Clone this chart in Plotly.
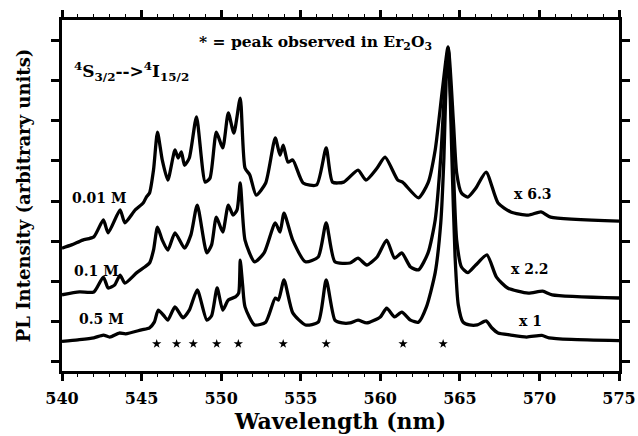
import plotly.graph_objects as go

# Wavelength (nm) and PL intensity (arbitrary units, offset spectra)
wl_05 = [540.0, 541.0, 542.0, 542.6, 543.0, 543.6, 544.0, 545.0, 545.5, 545.8, 546.05, 546.4, 546.65,
         547.1, 547.6, 548.0, 548.5, 549.1, 549.4, 549.75, 550.1, 550.45, 550.9, 551.1, 551.2, 551.35,
         551.5, 552.1, 552.8, 553.4, 553.6, 553.95, 554.5, 555.3, 556.1, 556.6, 557.15, 557.6, 558.1,
         558.6, 559.15, 560.0, 560.4, 560.9, 561.35, 561.9, 562.4, 562.9, 563.45, 563.8, 564.0, 564.15,
         564.26, 564.4, 564.5, 564.7, 564.9, 565.2, 565.6, 566.1, 566.65, 567.0, 567.4, 568.2, 569.2,
         570.15, 570.6, 572.0, 575.0]
int_05 = [1.51, 1.55, 1.60, 1.67, 1.62, 1.72, 1.70, 1.80, 1.85, 1.99, 2.29, 2.15, 2.04,
          2.37, 2.10, 2.29, 2.79, 2.04, 2.15, 2.84, 2.29, 2.54, 2.62, 2.71, 3.53, 2.91,
          2.37, 1.92, 1.99, 2.59, 2.54, 3.04, 2.22, 1.92, 1.99, 3.04, 2.04, 1.97, 1.97,
          2.04, 1.97, 2.12, 2.34, 2.12, 2.24, 2.04, 1.99, 2.37, 3.22, 4.46, 6.09, 8.18,
          8.80, 7.51, 6.09, 3.61, 2.42, 1.99, 1.92, 1.92, 2.02, 1.85, 1.72, 1.67, 1.62,
          1.66, 1.60, 1.56, 1.53]

wl_01 = [540.0, 541.1, 542.0, 542.6, 542.9, 543.3, 543.65, 543.95, 544.7, 545.2, 545.5, 545.75, 546.0,
         546.3, 546.65, 547.1, 547.7, 548.1, 548.5, 549.1, 549.4, 549.7, 550.1, 550.45, 550.75, 551.0,
         551.2, 551.5, 552.1, 552.7, 553.4, 553.7, 553.95, 554.5, 555.3, 556.1, 556.6, 557.15, 558.1,
         558.6, 559.15, 559.8, 560.4, 560.9, 561.35, 561.9, 562.4, 563.0, 563.45, 563.8, 564.1, 564.26,
         564.6, 564.8, 565.1, 565.5, 566.0, 566.7, 567.3, 568.0, 569.3, 570.2, 570.8, 575.0]
int_01 = [2.67, 2.74, 2.74, 3.11, 2.84, 2.91, 3.16, 2.96, 3.22, 3.36, 3.46, 3.78, 4.35,
          4.03, 3.78, 4.21, 3.83, 4.16, 4.90, 3.71, 3.91, 4.60, 4.23, 4.90, 4.65, 4.78,
          5.45, 4.03, 3.49, 3.71, 4.46, 4.23, 4.70, 4.03, 3.49, 3.61, 4.46, 3.49, 3.46,
          3.58, 3.41, 3.61, 4.03, 3.58, 3.71, 3.36, 3.29, 3.71, 4.53, 6.09, 8.18, 8.80,
          5.70, 4.03, 3.36, 3.22, 3.41, 3.66, 3.11, 2.84, 2.71, 2.76, 2.67, 2.59]

wl_001 = [540.0, 540.6, 541.3, 542.0, 542.6, 542.9, 543.65, 543.95, 544.6, 545.1, 545.3, 545.5, 545.75,
          546.0, 546.3, 546.65, 547.1, 547.3, 547.5, 547.7, 548.0, 548.45, 549.0, 549.3, 549.7, 550.1,
          550.45, 550.8, 551.2, 551.5, 551.8, 552.2, 552.8, 553.4, 553.7, 553.9, 554.2, 554.5, 555.15,
          556.0, 556.6, 557.0, 557.7, 558.6, 559.1, 559.8, 560.3, 561.1, 561.4, 562.4, 563.0, 563.45,
          563.9, 564.26, 564.6, 564.8, 565.1, 565.5, 566.0, 566.65, 567.4, 568.2, 569.3, 570.1, 570.7,
          575.0]
int_001 = [3.83, 3.91, 4.03, 4.11, 4.53, 4.21, 4.78, 4.46, 4.78, 4.95, 5.10, 5.20, 5.77,
           6.71, 6.02, 5.52, 6.27, 6.07, 6.22, 5.89, 6.07, 7.09, 5.47, 5.57, 6.71, 6.32,
           7.19, 6.69, 7.56, 5.82, 5.65, 5.15, 5.45, 6.57, 6.14, 6.39, 5.97, 6.02, 5.45,
           5.40, 6.32, 5.47, 5.47, 5.77, 5.52, 5.82, 6.09, 5.52, 5.47, 5.08, 5.45, 6.27,
           7.76, 8.83, 6.94, 5.70, 5.20, 5.10, 5.32, 5.72, 4.95, 4.73, 4.65, 4.73, 4.60,
           4.50]

star_wl = [545.95, 547.2, 548.25, 549.72, 551.08, 553.9, 556.6, 561.43, 563.95]
star_y = [1.45] * len(star_wl)

labels_conc = ["0.01 M", "0.1 M", "0.5 M"]
labels_scale = ["x 6.3", "x 2.2", "x 1"]

FONT = "DejaVu Serif"

fig = go.Figure()
for wl, it in [(wl_05, int_05), (wl_01, int_01), (wl_001, int_001)]:
    fig.add_trace(go.Scatter(x=wl, y=it, mode="lines",
                             line=dict(color="black", width=3.3, shape="spline", smoothing=0.6),
                             showlegend=False, hoverinfo="skip"))

fig.add_trace(go.Scatter(x=star_wl, y=star_y, mode="markers",
                         marker=dict(symbol="star", size=7, color="black"),
                         showlegend=False, hoverinfo="skip"))

ann_font = dict(family=FONT, size=14, color="black")
conc_pos = [(540.5, 5.08), (540.6, 3.27), (540.95, 2.06)]
scale_pos = [(568.3, 5.18), (568.1, 3.31), (568.6, 2.01)]
annotations = [
    dict(x=548.5, y=8.93, text="<b>* = peak observed in Er<sub>2</sub>O<sub>3</sub></b>",
         xanchor="left", yanchor="middle", showarrow=False,
         font=dict(family=FONT, size=15.5, color="black")),
    dict(x=540.6, y=8.22, text="<b><sup>4</sup>S<sub>3/2</sub>--><sup>4</sup>I<sub>15/2</sub></b>",
         xanchor="left", yanchor="middle", showarrow=False,
         font=dict(family=FONT, size=17, color="black")),
]
for lab, (x, y) in zip(labels_conc, conc_pos):
    annotations.append(dict(x=x, y=y, text="<b>%s</b>" % lab, xanchor="left", yanchor="middle",
                            showarrow=False, font=ann_font))
for lab, (x, y) in zip(labels_scale, scale_pos):
    annotations.append(dict(x=x, y=y, text="<b>%s</b>" % lab, xanchor="left", yanchor="middle",
                            showarrow=False, font=ann_font))

axis_common = dict(showline=True, linecolor="black", linewidth=3, mirror="ticks",
                   ticks="outside", tickcolor="black", tickwidth=3, showgrid=False,
                   zeroline=False, automargin=False)

fig.update_layout(
    width=638, height=436,
    margin=dict(l=62, r=19, t=20, b=65),
    paper_bgcolor="white", plot_bgcolor="white",
    annotations=annotations,
    xaxis=dict(range=[540, 575], tick0=540, dtick=5, ticklen=7, ticklabelstandoff=4,
               tickfont=dict(family=FONT, size=16, color="black"),
               tickprefix="<b>", ticksuffix="</b>",
               minor=dict(ticks="outside", dtick=1, ticklen=3, tickwidth=1, tickcolor="black"),
               title=dict(text="<b>Wavelength (nm)</b>", font=dict(family=FONT, size=22, color="black"),
                          standoff=2),
               **axis_common),
    yaxis=dict(range=[0.776, 9.5], tick0=1, dtick=1, ticklen=8, showticklabels=False,
               title=dict(text="<b>PL Intensity (arbitrary units)</b>",
                          font=dict(family=FONT, size=18, color="black"), standoff=16),
               **axis_common),
)

fig.write_html("out.html")
